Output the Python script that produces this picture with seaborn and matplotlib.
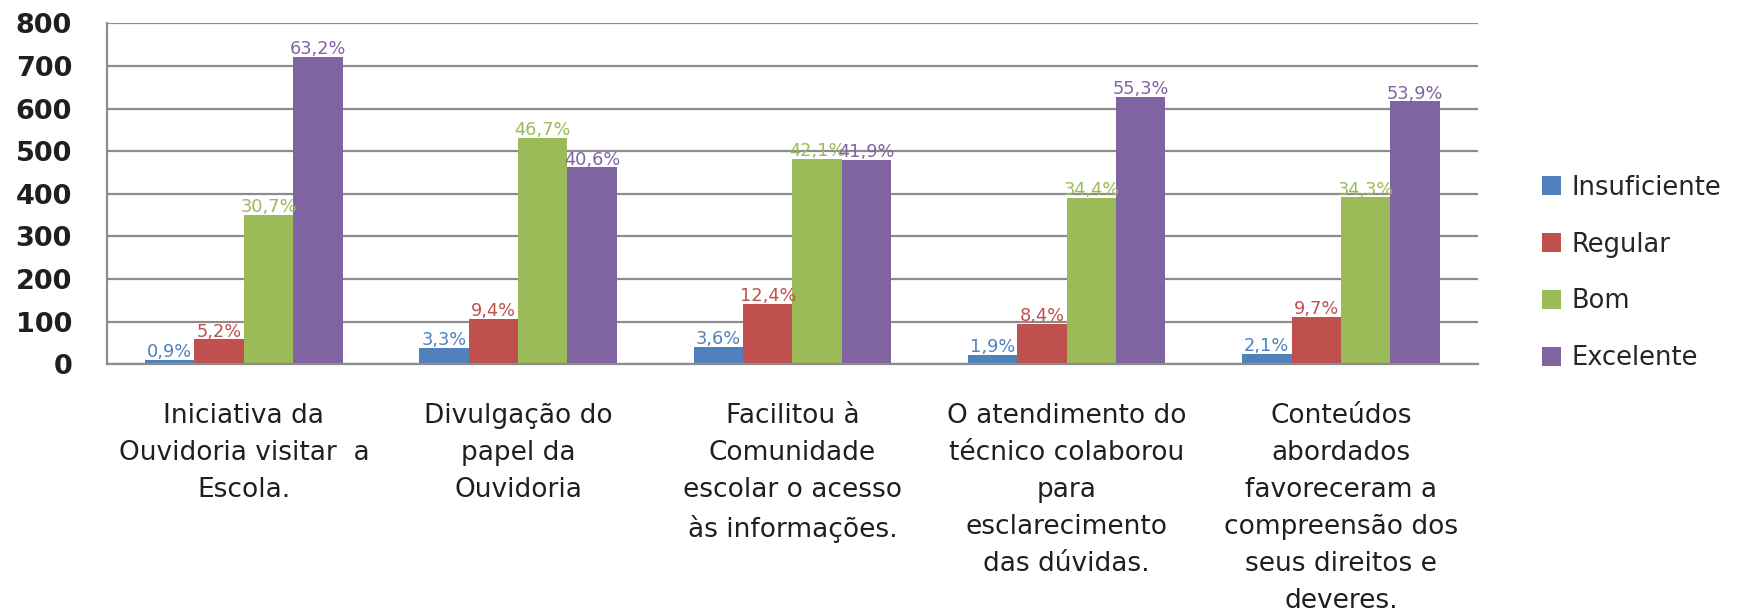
import pandas as pd
import matplotlib.pyplot as plt
import seaborn as sns
from matplotlib.patches import Patch

categorias = [
    "Iniciativa da\nOuvidoria visitar  a\nEscola.",
    "Divulgação do\npapel da\nOuvidoria",
    "Facilitou à\nComunidade\nescolar o acesso\nàs informações.",
    "O atendimento do\ntécnico colaborou\npara\nesclarecimento\ndas dúvidas.",
    "Conteúdos\nabordados\nfavoreceram a\ncompreensão dos\nseus direitos e\ndeveres.",
]
series = ["Insuficiente", "Regular", "Bom", "Excelente"]

insuficiente = [10, 38, 41, 22, 24]
regular = [59, 107, 142, 95, 111]
bom = [351, 531, 482, 391, 392]
excelente = [722, 462, 479, 628, 617]

pct_insuficiente = [0.9, 3.3, 3.6, 1.9, 2.1]
pct_regular = [5.2, 9.4, 12.4, 8.4, 9.7]
pct_bom = [30.7, 46.7, 42.1, 34.4, 34.3]
pct_excelente = [63.2, 40.6, 41.9, 55.3, 53.9]

cores = ["#4F81BD", "#C0504D", "#9BBB59", "#8064A2"]

valores = [insuficiente, regular, bom, excelente]
pcts = [pct_insuficiente, pct_regular, pct_bom, pct_excelente]

df = pd.DataFrame({
    "categoria": categorias * len(series),
    "avaliacao": [s for s in series for _ in categorias],
    "valor": [v for serie in valores for v in serie],
})

sns.set_style("white")
plt.rcParams["font.family"] = ["DejaVu Sans"]

fig = plt.figure(figsize=(17.44, 6.14), dpi=100)
ax = fig.add_axes([0.0612, 0.4067, 0.7863, 0.5554])

sns.barplot(data=df, x="categoria", y="valor", hue="avaliacao", hue_order=series,
            palette=cores, saturation=1, width=0.72, gap=0, edgecolor="none",
            linewidth=0, legend=False, ax=ax)

for container, pct, cor in zip(ax.containers, pcts, cores):
    labels = [f"{p:.1f}".replace(".", ",") + "%" for p in pct]
    ax.bar_label(container, labels=labels, color=cor, fontsize=12.8, padding=-1)

ax.set_ylim(0, 800)
ax.set_yticks(range(0, 801, 100))
ax.yaxis.grid(True, color="#8c8c8c", linewidth=1.6)
ax.set_axisbelow(True)
ax.set_xlabel("")
ax.set_ylabel("")

for lado in ["top", "right"]:
    ax.spines[lado].set_visible(False)
for lado in ["left", "bottom"]:
    ax.spines[lado].set_color("#8c8c8c")
    ax.spines[lado].set_linewidth(1.6)

ax.tick_params(axis="y", length=0, pad=25, labelsize=19.5, labelcolor="#1f1f1f")
ax.tick_params(axis="x", length=0, pad=28, labelsize=19, labelcolor="#1f1f1f")
for lab in ax.get_yticklabels():
    lab.set_fontweight("bold")
for lab in ax.get_xticklabels():
    lab.set_linespacing(1.55)

handles = [Patch(facecolor=c, edgecolor="none") for c in cores]
fig.legend(handles, series, loc="center left", bbox_to_anchor=(1541.7 / 1744, 0.5554),
           frameon=False, fontsize=18.5, handlelength=0.75, handleheight=0.75,
           handletextpad=0.4, labelspacing=1.2, borderpad=0, borderaxespad=0)

fig.savefig("out.png", dpi=100)
